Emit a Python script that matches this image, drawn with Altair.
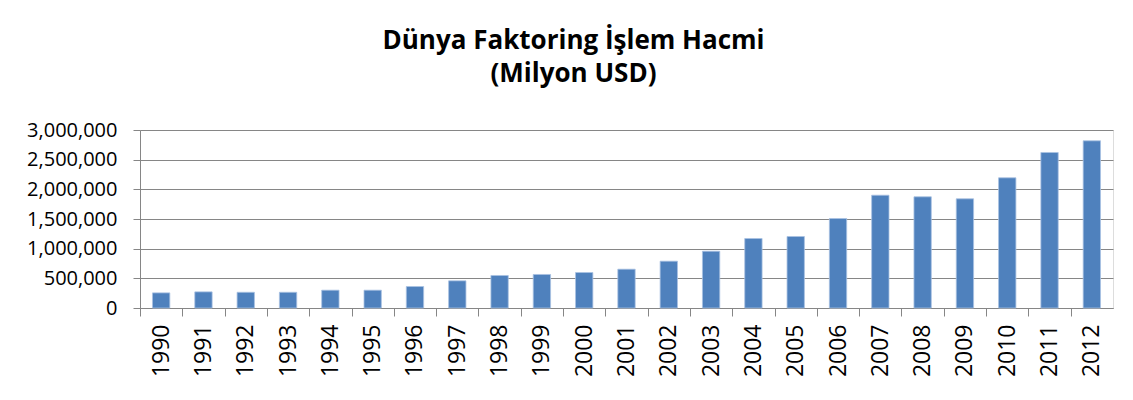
import altair as alt
import pandas as pd

years = [str(y) for y in range(1990, 2013)]
volume = [255000, 272000, 265000, 265000, 300000, 300000, 362000, 458000, 548000,
          565000, 598000, 654000, 789000, 957000, 1171000, 1205000, 1508000,
          1901000, 1874000, 1840000, 2194000, 2621000, 2818000]

df = pd.DataFrame({"year": years, "volume": volume})

FONT = "Open Sans"
step = 973 / 23

chart = alt.Chart(df).mark_bar(
    color="#4F81BD", stroke="#A9C2E2", strokeWidth=0.8
).encode(
    x=alt.X("year:N", sort=years, title=None,
            scale=alt.Scale(paddingInner=0.59, paddingOuter=0.295),
            axis=alt.Axis(labelAngle=-90, labelAlign="right", labelBaseline="middle",
                          labelFont=FONT, labelFontSize=23, labelColor="#000000",
                          labelPadding=8, tickSize=8, tickColor="#868686",
                          domainColor="#868686", tickOffset=-step / 2,
                          labelOffset=step / 2, grid=False)),
    y=alt.Y("volume:Q", title=None,
            scale=alt.Scale(domain=[0, 3000000], nice=False),
            axis=alt.Axis(values=[0, 500000, 1000000, 1500000, 2000000, 2500000, 3000000],
                          format=",d", labelFont=FONT, labelFontSize=20,
                          labelColor="#000000", labelPadding=16, tickSize=7,
                          tickColor="#868686", domainColor="#868686",
                          gridColor="#868686", gridWidth=1, grid=True)),
).properties(
    width=973,
    height=178,
    title=alt.TitleParams(
        text=["Dünya Faktoring İşlem Hacmi", "(Milyon USD)"],
        font=FONT, fontSize=26, fontWeight="bold", color="#000000",
        anchor="middle", dx=-53, offset=33, lineHeight=33,
    ),
    autosize=alt.AutoSizeParams(type="none"),
    padding={"left": 140, "top": 130, "right": 20, "bottom": 92},
).configure_view(stroke=None).configure(background="white")

chart.save("out.html", embed_options={"renderer": "svg", "actions": False})
